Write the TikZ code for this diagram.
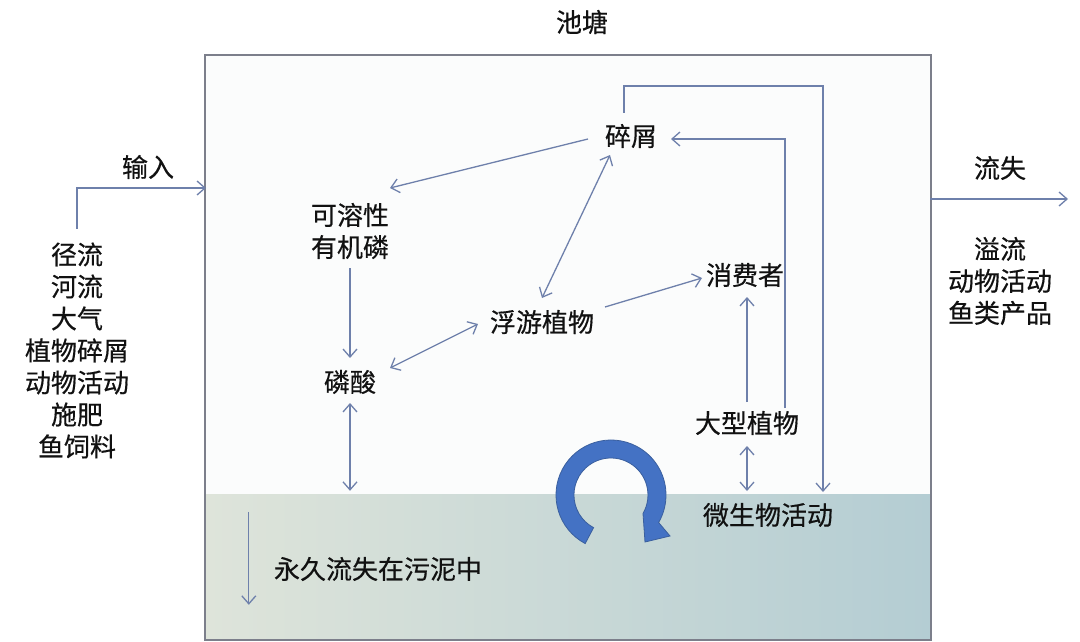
\documentclass[tikz,border=0pt]{standalone}
\usepackage{fontspec}
\setmainfont{Noto Sans CJK SC}[FakeBold=0.45]
\usetikzlibrary{arrows.meta,calc}
\definecolor{arrowc}{HTML}{6E80AB}
\definecolor{boxc}{HTML}{7C7F8B}
\definecolor{pondfill}{HTML}{FBFCFC}
\definecolor{sedl}{HTML}{DEE4DA}
\definecolor{sedr}{HTML}{B4CDD3}
\definecolor{txt}{HTML}{111111}
\definecolor{cfill}{HTML}{4472C4}
\definecolor{cline}{HTML}{3A5F9E}
\tikzset{
  lbl/.style={inner sep=0pt, font=\fontsize{26}{32}\selectfont, text=txt, align=center},
  arr/.style={draw=arrowc, line width=1.3pt, -{Straight Barb[length=8pt,width=14pt]}},
  darr/.style={draw=arrowc, line width=1.3pt, {Straight Barb[length=8pt,width=14pt]}-{Straight Barb[length=8pt,width=14pt]}}
}
\begin{document}
\begin{tikzpicture}[x=1pt,y=-1pt]
\useasboundingbox (0,0) rectangle (1080,642);
\fill[white] (0,0) rectangle (1080,642);
% pond
\node[inner sep=0pt, fill=pondfill, minimum width=725pt, minimum height=584.5pt] (pond) at (568,347.75) {};
\node[inner sep=0pt, left color=sedl, right color=sedr, minimum width=725pt, minimum height=146pt] (sed) at (568,567) {};
\draw[boxc, line width=2pt] (pond.north west) rectangle (pond.south east);
% texts
\node[lbl] (title) at (582,22) {池塘};
\node[lbl] (inp) at (148,167) {输入};
\node[lbl] (src) at (77,350.5) {径流\\河流\\大气\\植物碎屑\\动物活动\\施肥\\鱼饲料};
\node[lbl] (out) at (1000,168) {流失};
\node[lbl] (loss) at (1000,281) {溢流\\动物活动\\鱼类产品};
\node[lbl] (sx) at (631,136) {碎屑};
\node[lbl] (kr) at (350,231) {可溶性\\有机磷};
\node[lbl] (ls) at (350,382) {磷酸};
\node[lbl] (fy) at (542,322) {浮游植物};
\node[lbl] (xf) at (745,275) {消费者};
\node[lbl] (dx) at (747,423) {大型植物};
\node[lbl] (ws) at (768,515) {微生物活动};
\node[lbl] (yj) at (378,569) {永久流失在污泥中};
% input / output
\draw[arr] ($(src)+(0,-122)$) |- ($(inp)+(58,21)$);
\draw[arr] ($(out)+(-70,31)$) -- ($(out)+(68,31)$);
% internal connectors
\draw[arr] ($(sx)+(-43,3)$) -- ($(kr)+(40,-43)$);
\draw[darr] ($(sx)+(-21,19)$) -- ($(fy)+(0,-24)$);
\draw[arr] ($(sx)+(-7,-23)$) -- ++(0,-27) -| ($(ws)+(55,-23)$);
\draw[arr] ($(dx)+(38,-15)$) |- ($(sx)+(40,3)$);
\draw[arr] ($(kr)+(0,37)$) -- ($(ls)+(0,-24)$);
\draw[darr] ($(ls)+(40,-14)$) -- ($(fy)+(-64,2)$);
\draw[arr] ($(fy)+(63,-15)$) -- ($(xf)+(-43,3)$);
\draw[arr] ($(dx)+(0,-21)$) -- ($(xf)+(2,22)$);
\draw[darr] ($(dx)+(0,23)$) -- ($(ws)+(-21,-24)$);
\draw[darr] ($(ls)+(0,21)$) -- ($(ls |- sed.north)+(0,-3)$);
\draw[arr] ($(sed.north west)+(43.5,18)$) -- ($(sed.north west)+(43.5,111)$);
% circular arrow
\filldraw[fill=cfill, draw=cline, line width=0.8pt]
  (611,495) ++(118:55) arc[start angle=118, end angle=390, radius=55]
  -- (670,536) -- (645,542) -- (643,513.5)
  arc[start angle=390, end angle=118, radius=37] -- cycle;
\end{tikzpicture}
\end{document}
